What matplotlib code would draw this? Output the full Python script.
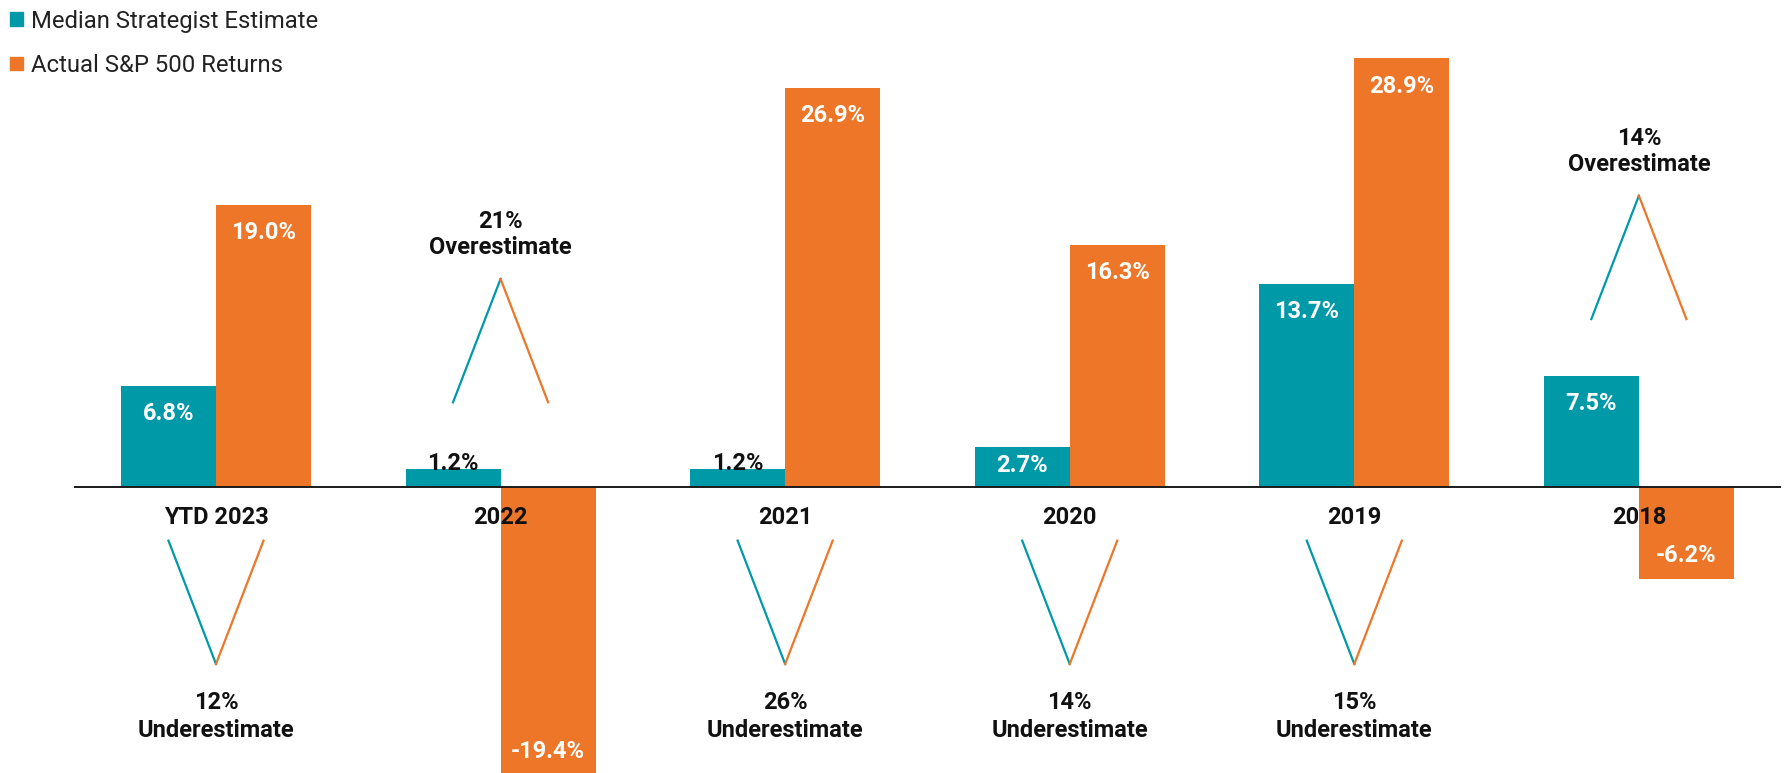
import matplotlib
matplotlib.use("Agg")
import matplotlib.pyplot as plt
from matplotlib.patches import Rectangle
import numpy as np

# ---- data ----
categories = ["YTD 2023", "2022", "2021", "2020", "2019", "2018"]
estimate = [6.8, 1.2, 1.2, 2.7, 13.7, 7.5]
actual = [19.0, -19.4, 26.9, 16.3, 28.9, -6.2]
gap_pct = [12, 21, 26, 14, 15, 14]
gap_kind = ["Underestimate", "Overestimate", "Underestimate",
            "Underestimate", "Underestimate", "Overestimate"]
series_names = ["Median Strategist Estimate", "Actual S&P 500 Returns"]

# ---- style ----
TEAL = "#0099A8"
ORANGE = "#EE7628"
FONT = "Roboto"
W, H = 1786, 773
DPI = 100
bar_w = 0.334
# vertical anchor (in value units) of each V / inverted-V decoration
gap_anchor = [-11.94, 14.03, -11.94, -11.94, -11.94, 19.64]
v_height = 8.32

plt.rcParams["font.family"] = [FONT, "DejaVu Sans"]
fig = plt.figure(figsize=(W / DPI, H / DPI), dpi=DPI)
ax = fig.add_axes([0, 0, 1, 1])
ax.set_xlim(-0.759, 5.517)
ax.set_ylim(-19.29, 32.84)
ax.axis("off")

x = np.arange(len(categories))
ax.bar(x - bar_w / 2, estimate, width=bar_w, color=TEAL, zorder=2)
ax.bar(x + bar_w / 2, actual, width=bar_w, color=ORANGE, zorder=2)
ax.plot([-0.5, len(categories) - 0.5], [0, 0], color="#1a1a1a", lw=1.4, zorder=3,
        solid_capstyle="butt")

fs = 17


def value_label(xc, v):
    txt = f"{v:.1f}%"
    if abs(v) < 2:
        ax.text(xc, v - 0.05, txt, ha="center", va="baseline", fontsize=fs,
                fontweight="bold", color="#111111", zorder=4)
    elif v > 0:
        ax.text(xc, v - min(2.3, 0.63 * v), txt, ha="center", va="baseline",
                fontsize=fs, fontweight="bold", color="white", zorder=4)
    else:
        ax.text(xc, v + 1.15, txt, ha="center", va="baseline", fontsize=fs,
                fontweight="bold", color="white", zorder=4)


for i in range(len(categories)):
    value_label(x[i] - bar_w / 2, estimate[i])
    value_label(x[i] + bar_w / 2, actual[i])
    ax.text(x[i], -2.53, categories[i], ha="center", va="baseline",
            fontsize=fs, fontweight="bold", color="#111111", zorder=4)

    a = gap_anchor[i]
    if gap_kind[i] == "Underestimate":
        end = a + v_height
        ax.plot([x[i] - bar_w / 2, x[i]], [end, a], color=TEAL, lw=1.6)
        ax.plot([x[i], x[i] + bar_w / 2], [a, end], color=ORANGE, lw=1.6)
        ax.text(x[i], a - 3.05, f"{gap_pct[i]}%", ha="center", va="baseline",
                fontsize=fs, fontweight="bold", color="#111111")
        ax.text(x[i], a - 4.9, gap_kind[i], ha="center", va="baseline",
                fontsize=fs, fontweight="bold", color="#111111")
    else:
        end = a - v_height
        ax.plot([x[i] - bar_w / 2, x[i]], [end, a], color=TEAL, lw=1.6)
        ax.plot([x[i], x[i] + bar_w / 2], [a, end], color=ORANGE, lw=1.6)
        ax.text(x[i], a + 3.45, f"{gap_pct[i]}%", ha="center", va="baseline",
                fontsize=fs, fontweight="bold", color="#111111")
        ax.text(x[i], a + 1.65, gap_kind[i], ha="center", va="baseline",
                fontsize=fs, fontweight="bold", color="#111111")

# ---- legend (manual, top-left) ----
for j, (name, col) in enumerate(zip(series_names, [TEAL, ORANGE])):
    cy = 19 + 44 * j
    fig.patches.append(Rectangle((10 / W, 1 - (cy + 6.5) / H), 13 / W, 13 / H,
                                 transform=fig.transFigure, color=col))
    fig.text(31 / W, 1 - cy / H, name, ha="left", va="center_baseline",
             fontsize=17.2, color="#222222")

fig.savefig("out.png", dpi=DPI)
